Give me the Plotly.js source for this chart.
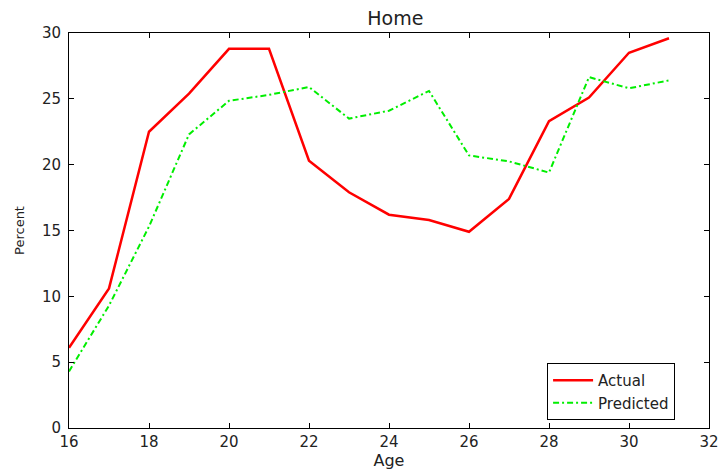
<!DOCTYPE html>
<html>
<head>
<meta charset="utf-8">
<script src="https://cdn.plot.ly/plotly-3.0.1.min.js"></script>
<style>html,body{margin:0;padding:0;background:#fff;}#chart{width:720px;height:474px;}</style>
</head>
<body>
<div id="chart"></div>
<script>
const ages = [16,17,18,19,20,21,22,23,24,25,26,27,28,29,30,31];
const actual = [6.1,10.6,22.5,25.4,28.8,28.8,20.3,17.9,16.2,15.8,14.9,17.4,23.3,25.1,28.5,29.6];
const predicted = [4.3,9.3,15.3,22.3,24.85,25.3,25.9,23.5,24.1,25.6,20.7,20.25,19.4,26.65,25.8,26.4];
const xTicks = [16,18,20,22,24,26,28,30,32];
const yTicks = [0,5,10,15,20,25,30];

const FONT = 'DejaVu Sans, Arial, sans-serif';

const traces = [
  {x: ages, y: actual, name: 'Actual', type: 'scatter', mode: 'lines',
   line: {color: '#ff0000', width: 2.5}},
  {x: ages, y: predicted, name: 'Predicted', type: 'scatter', mode: 'lines',
   line: {color: '#00ee00', width: 2, dash: '6px,3px,2px,3px'}}
];

const axisBase = {
  showgrid: false, zeroline: false, showline: true, linecolor: '#000', linewidth: 1,
  mirror: 'ticks', ticks: 'inside', ticklen: 5, tickcolor: '#000',
  tickfont: {family: FONT, size: 15, color: '#222'}
};

const layout = {
  width: 720, height: 474,
  margin: {l: 69, r: 11, t: 33, b: 46},
  paper_bgcolor: '#fff', plot_bgcolor: '#fff',
  title: {text: 'Home', x: 0.549, xanchor: 'center', y: 0.962, yanchor: 'middle',
          font: {family: FONT, size: 19, color: '#222'}},
  xaxis: Object.assign({}, axisBase, {
    range: [16, 32], tickvals: xTicks, ticktext: xTicks.map(String),
    title: {text: 'Age', standoff: 2, font: {family: FONT, size: 16, color: '#222'}}
  }),
  yaxis: Object.assign({}, axisBase, {
    range: [0, 30], tickvals: yTicks, ticktext: yTicks.map(String),
    ticklabelstandoff: 4,
    title: {text: 'Percent', standoff: 14, font: {family: FONT, size: 13, color: '#222'}}
  }),
  showlegend: true,
  legend: {x: 0.747, y: 0.02, xanchor: 'left', yanchor: 'bottom',
           bordercolor: '#000', borderwidth: 1, bgcolor: '#fff',
           font: {family: FONT, size: 15, color: '#222'},
           tracegroupgap: 0, itemwidth: 40}
};

Plotly.newPlot('chart', traces, layout, {displayModeBar: false, staticPlot: true});
</script>
</body>
</html>
